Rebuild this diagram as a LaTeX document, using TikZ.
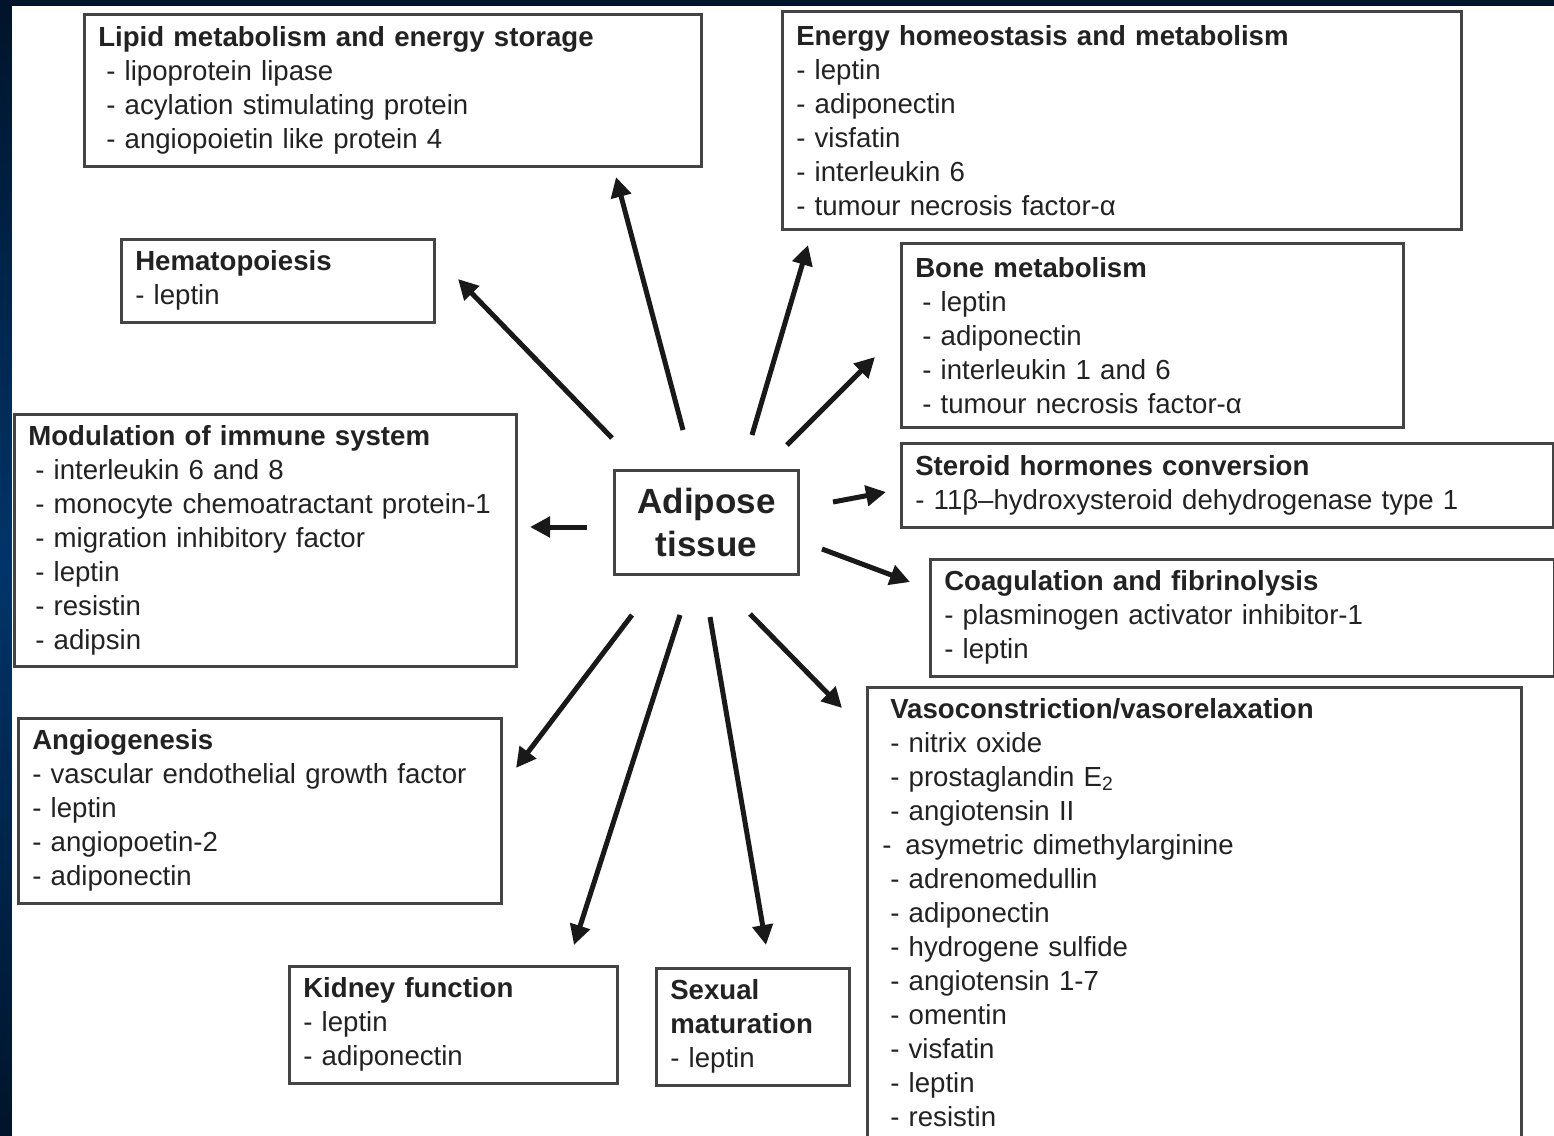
\documentclass[tikz,border=0pt]{standalone}
\usepackage{fontspec}
\setmainfont{Liberation Sans}
\usetikzlibrary{arrows.meta}
\definecolor{navydark}{HTML}{00142B}
\definecolor{navymid}{HTML}{00356A}
\definecolor{boxline}{HTML}{444444}
\definecolor{inktext}{HTML}{222222}
\begin{document}
\begin{tikzpicture}[x=0.5pt,y=-0.5pt,
	panel/.style={draw=boxline, line width=1.3pt, anchor=north west, align=left,
		inner xsep=7pt, inner ysep=0pt, text=inktext, font=\fontsize{13.8}{17}\selectfont},
	hub/.style={draw=boxline, line width=1.5pt, anchor=north west, align=center,
		inner sep=0pt, text=inktext, font=\bfseries\fontsize{17.5}{21.5}\selectfont},
	effect/.style={line width=2.5pt, black!90, -{Triangle[length=10pt,width=10pt]}}]
	\useasboundingbox (0,0) rectangle (1554,1136);
	
	% Frame
	\fill[navydark] (0,0) rectangle (1554,1136);
	\shade[top color=navydark, bottom color=navydark, middle color=navymid] (0,0) rectangle (12,1136);
	\fill[white] (12,6) rectangle (1554,1136);
	
	% Centre
	\node[hub, minimum width=92pt, minimum height=52pt] (adip) at (613,469) {Adipose\\tissue};
	
	% Upper boxes
	\node[panel, text width=294.5pt, minimum height=76pt] (lipid) at (83,13)
		{\textbf{Lipid metabolism and energy storage}\\
		\hspace*{4pt}- lipoprotein lipase\\
		\hspace*{4pt}- acylation stimulating protein\\
		\hspace*{4pt}- angiopoietin like protein 4};
	\node[panel, text width=325.5pt, minimum height=109pt] (energy) at (781,10)
		{\textbf{Energy homeostasis and metabolism}\\
		- leptin\\
		- adiponectin\\
		- visfatin\\
		- interleukin 6\\
		- tumour necrosis factor-α};
	\node[panel, text width=142.5pt, minimum height=41.5pt] (hemato) at (120,238)
		{\textbf{Hematopoiesis}\\
		- leptin};
	\node[panel, text width=237pt, minimum height=92pt] (bone) at (900,242)
		{\textbf{Bone metabolism}\\
		\hspace*{3.5pt}- leptin\\
		\hspace*{3.5pt}- adiponectin\\
		\hspace*{3.5pt}- interleukin 1 and 6\\
		\hspace*{3.5pt}- tumour necrosis factor-α};
	
	% Middle boxes
	\node[panel, text width=237pt, minimum height=126pt] (immune) at (13,413)
		{\textbf{Modulation of immune system}\\
		\hspace*{3.5pt}- interleukin 6 and 8\\
		\hspace*{3.5pt}- monocyte chemoatractant protein-1\\
		\hspace*{3.5pt}- migration inhibitory factor\\
		\hspace*{3.5pt}- leptin\\
		\hspace*{3.5pt}- resistin\\
		\hspace*{3.5pt}- adipsin};
	\node[panel, text width=312pt, minimum height=42pt] (steroid) at (900,442)
		{\textbf{Steroid hormones conversion}\\
		- 11β–hydroxysteroid dehydrogenase type 1};
	\node[panel, text width=298pt, minimum height=58.5pt] (coag) at (929,558)
		{\textbf{Coagulation and fibrinolysis}\\
		- plasminogen activator inhibitor-1\\
		- leptin};
	
	% Lower boxes
	\node[panel, text width=227.5pt, minimum height=92.5pt] (angio) at (17,717)
		{\textbf{Angiogenesis}\\
		- vascular endothelial growth factor\\
		- leptin\\
		- angiopoetin-2\\
		- adiponectin};
	\node[panel, text width=150pt, minimum height=58.5pt] (kidney) at (288,965)
		{\textbf{Kidney function}\\
		- leptin\\
		- adiponectin};
	\node[panel, text width=82.5pt, minimum height=58.5pt] (sexual) at (655,967)
		{\textbf{Sexual}\\
		\textbf{maturation}\\
		- leptin};
	\node[panel, inner xsep=11.5pt, text width=304pt, minimum height=225.5pt] (vaso) at (866,686)
		{\textbf{Vasoconstriction/vasorelaxation}\\
		- nitrix oxide\\
		- prostaglandin E\textsubscript{2}\\
		- angiotensin II\\
		\hspace*{-4pt}-\hspace{7pt}asymetric dimethylarginine\\
		- adrenomedullin\\
		- adiponectin\\
		- hydrogene sulfide\\
		- angiotensin 1-7\\
		- omentin\\
		- visfatin\\
		- leptin\\
		- resistin};
	
	% Arrow ends
	\coordinate (s-lipid) at (683,430);   \coordinate (t-lipid) at (616,177);
	\coordinate (s-hemato) at (612,438);  \coordinate (t-hemato) at (458,279);
	\coordinate (s-energy) at (752,435);  \coordinate (t-energy) at (808,245);
	\coordinate (s-bone) at (787,445);    \coordinate (t-bone) at (875,357);
	\coordinate (s-immune) at (587,527);  \coordinate (t-immune) at (530,527);
	\coordinate (s-steroid) at (833,502); \coordinate (t-steroid) at (886,492);
	\coordinate (s-coag) at (822,549);    \coordinate (t-coag) at (910,582);
	\coordinate (s-vaso) at (750,614);    \coordinate (t-vaso) at (842,708);
	\coordinate (s-angio) at (632,615);   \coordinate (t-angio) at (516,768);
	\coordinate (s-kidney) at (680,615);  \coordinate (t-kidney) at (574,945);
	\coordinate (s-sexual) at (710,617);  \coordinate (t-sexual) at (766,945);
	
	% Arrows
	\draw[effect] (s-lipid) -- (t-lipid);
	\draw[effect] (s-hemato) -- (t-hemato);
	\draw[effect] (s-energy) -- (t-energy);
	\draw[effect] (s-bone) -- (t-bone);
	\draw[effect] (s-immune) -- (t-immune);
	\draw[effect] (s-steroid) -- (t-steroid);
	\draw[effect] (s-coag) -- (t-coag);
	\draw[effect] (s-vaso) -- (t-vaso);
	\draw[effect] (s-angio) -- (t-angio);
	\draw[effect] (s-kidney) -- (t-kidney);
	\draw[effect] (s-sexual) -- (t-sexual);
	
\end{tikzpicture}
\end{document}
